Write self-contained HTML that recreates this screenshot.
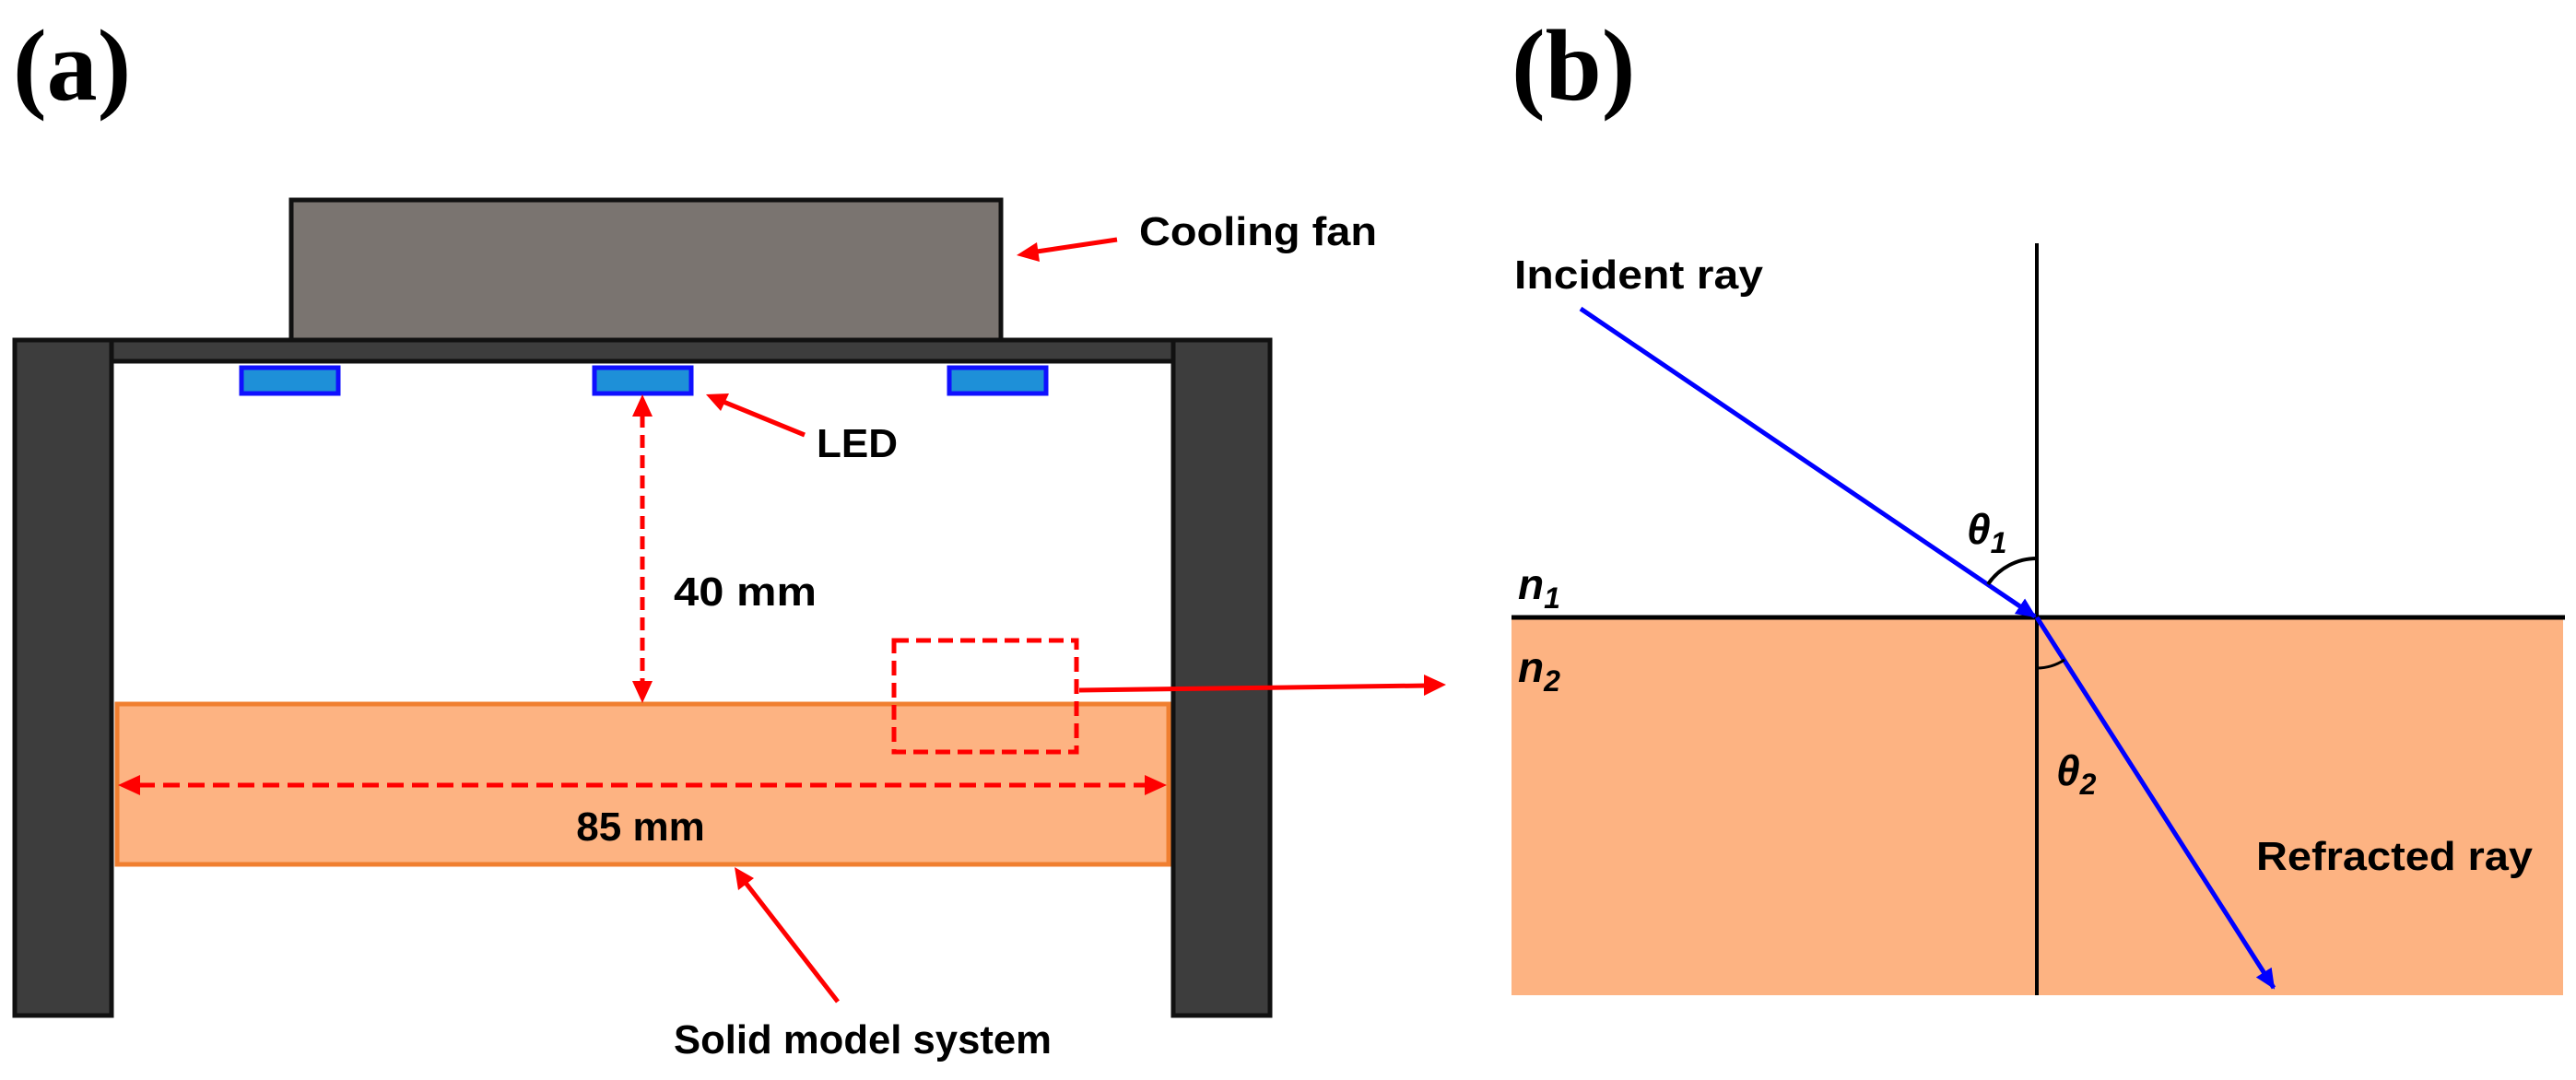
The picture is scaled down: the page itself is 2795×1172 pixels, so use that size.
<!DOCTYPE html>
<html><head><meta charset="utf-8"><style>html,body{margin:0;padding:0;background:#fff}svg{display:block}</style></head>
<body>
<svg width="2795" height="1172" viewBox="0 0 2795 1172" xmlns="http://www.w3.org/2000/svg">
<defs>
<marker id="arb" markerWidth="22" markerHeight="20" refX="20" refY="10" orient="auto" markerUnits="userSpaceOnUse"><path d="M0,0 L22,10 L0,20 z" fill="#0000ff"/></marker>
</defs>
<g font-family="Liberation Serif, serif" font-weight="bold" font-size="110">
<text x="14" y="108">(a)</text>
<text x="1640" y="108">(b)</text>
</g>
<!-- panel a -->
<rect x="316" y="217" width="770" height="152" fill="#7a7470" stroke="#111" stroke-width="5"/>
<rect x="121" y="369" width="1152" height="23" fill="#3d3d3d" stroke="#111" stroke-width="5"/>
<rect x="16" y="369" width="105" height="733" fill="#3d3d3d" stroke="#111" stroke-width="5"/>
<rect x="1273" y="369" width="105" height="733" fill="#3d3d3d" stroke="#111" stroke-width="5"/>
<g fill="#1e90d8" stroke="#1010ff" stroke-width="5">
<rect x="262" y="399" width="105" height="28"/>
<rect x="645" y="399" width="105" height="28"/>
<rect x="1030" y="399" width="105" height="28"/>
</g>
<rect x="127" y="764" width="1141" height="174" fill="#fdb382" stroke="#f07f30" stroke-width="5"/>
<g stroke="#ff0000" stroke-width="5" fill="none">
<line x1="697" y1="450" x2="697" y2="742" stroke-dasharray="14,8"/>
<line x1="150" y1="852" x2="1244" y2="852" stroke-dasharray="18,9"/>
<rect x="970" y="695" width="198" height="121" stroke-dasharray="16,8"/>
<line x1="1171" y1="749" x2="1548" y2="744"/>
<line x1="1212" y1="260" x2="1125" y2="273"/>
<line x1="873" y1="472" x2="785" y2="436"/>
<line x1="909" y1="1087" x2="809" y2="958"/>
</g>
<g fill="#ff0000">
<path d="M697,428 L686,452 L708,452 z"/>
<path d="M697,763 L686,739 L708,739 z"/>
<path d="M128,852 L152,841 L152,863 z"/>
<path d="M1266,852 L1242,841 L1242,863 z"/>
<path d="M1569,743 L1545,732 L1545,755 z"/>
<path d="M1103,277 L1125,263 L1128,284 z"/>
<path d="M766,428 L791,427 L782,446 z"/>
<path d="M797,941 L818,953 L801,966 z"/>
</g>
<rect x="1640" y="670" width="1141" height="410" fill="#fdb382"/>
<g font-family="Liberation Sans, sans-serif" font-weight="bold" font-size="44" fill="#000">
<text x="1236" y="266" textLength="258" lengthAdjust="spacingAndGlyphs">Cooling fan</text>
<text x="886" y="496">LED</text>
<text x="731" y="657" textLength="155" lengthAdjust="spacingAndGlyphs">40 mm</text>
<text x="695" y="912" text-anchor="middle">85 mm</text>
<text x="731" y="1143" textLength="410" lengthAdjust="spacingAndGlyphs">Solid model system</text>
<text x="1643" y="313" textLength="270" lengthAdjust="spacingAndGlyphs">Incident ray</text>
<text x="2448" y="944" textLength="300" lengthAdjust="spacingAndGlyphs">Refracted ray</text>
</g>
<line x1="2210" y1="264" x2="2210" y2="1080" stroke="#000" stroke-width="4"/>
<line x1="1640" y1="670" x2="2783" y2="670" stroke="#000" stroke-width="5"/>
<line x1="1715" y1="335" x2="2208" y2="669" stroke="#0000ff" stroke-width="5" marker-end="url(#arb)"/>
<line x1="2210" y1="670" x2="2467" y2="1072" stroke="#0000ff" stroke-width="5" marker-end="url(#arb)"/>
<path d="M2210,606 A64,64 0 0 0 2157,634" fill="none" stroke="#000" stroke-width="4"/>
<path d="M2210,725 A55,55 0 0 0 2240,716" fill="none" stroke="#000" stroke-width="3"/>
<g font-family="Liberation Sans, sans-serif" font-weight="bold" font-style="italic" fill="#000">
<text x="2134" y="590" font-size="46">θ<tspan font-size="32" dy="10">1</tspan></text>
<text x="2231" y="852" font-size="46">θ<tspan font-size="32" dy="10">2</tspan></text>
<text x="1647" y="650" font-size="46">n<tspan font-size="32" dy="10">1</tspan></text>
<text x="1647" y="740" font-size="46">n<tspan font-size="32" dy="10">2</tspan></text>
</g>
</svg>
</body></html>
